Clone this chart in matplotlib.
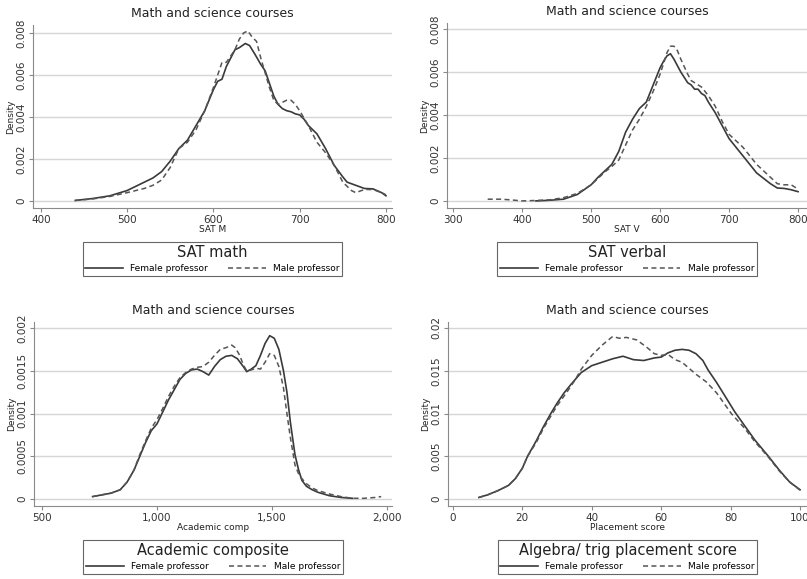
import numpy as np
import matplotlib
matplotlib.use("Agg")
import matplotlib.pyplot as plt

# Kernel density curves (density values in thousandths)
# SAT math
satm_f_x = [440, 460, 480, 500, 520, 530, 540, 550, 560, 570, 580, 590, 600, 605, 610, 615,
            620, 625, 630, 637, 642, 648, 655, 660, 665, 670, 675, 680, 685, 690, 695, 700,
            705, 710, 720, 730, 740, 750, 755, 765, 775, 785, 795, 800]
satm_f_y = [0.03, 0.12, 0.25, 0.5, 0.9, 1.1, 1.4, 1.9, 2.5, 2.9, 3.6, 4.3, 5.3, 5.7, 5.8, 6.4,
            6.8, 7.2, 7.3, 7.5, 7.4, 7.0, 6.5, 6.2, 5.6, 5.0, 4.6, 4.4, 4.3, 4.25, 4.15, 4.1,
            3.9, 3.6, 3.2, 2.5, 1.7, 1.15, 0.9, 0.75, 0.6, 0.58, 0.4, 0.25]
satm_m_x = [440, 460, 480, 500, 520, 530, 540, 550, 560, 570, 580, 590, 600, 605, 610, 615,
            620, 625, 630, 635, 640, 645, 650, 655, 660, 665, 670, 675, 680, 685, 690, 695,
            700, 710, 720, 730, 740, 750, 760, 765, 775, 785, 795, 800]
satm_m_y = [0.03, 0.1, 0.22, 0.4, 0.6, 0.75, 1.0, 1.6, 2.5, 2.8, 3.4, 4.3, 5.4, 6.0, 6.6, 6.6,
            6.9, 7.2, 7.7, 8.0, 8.1, 7.8, 7.6, 6.8, 6.1, 5.4, 4.8, 4.6, 4.7, 4.8, 4.8, 4.6,
            4.3, 3.6, 2.8, 2.3, 1.7, 0.9, 0.5, 0.4, 0.55, 0.55, 0.4, 0.3]

# SAT verbal
satv_f_x = [420, 440, 460, 480, 500, 510, 520, 530, 540, 550, 560, 570, 580, 590, 600, 605,
            610, 615, 620, 625, 630, 640, 645, 650, 655, 660, 665, 670, 680, 690, 700, 710,
            720, 730, 740, 750, 760, 770, 780, 790, 800]
satv_f_y = [0.0, 0.03, 0.08, 0.3, 0.75, 1.1, 1.4, 1.7, 2.3, 3.2, 3.8, 4.3, 4.6, 5.4, 6.2, 6.5,
            6.75, 6.85, 6.6, 6.3, 6.0, 5.5, 5.4, 5.2, 5.2, 5.0, 4.9, 4.6, 4.1, 3.5, 2.9, 2.5,
            2.1, 1.7, 1.3, 1.05, 0.8, 0.6, 0.58, 0.52, 0.43]
satv_m_x = [350, 370, 390, 400, 420, 440, 460, 480, 500, 510, 520, 530, 540, 550, 560, 570,
            580, 590, 600, 605, 610, 615, 620, 625, 630, 640, 645, 650, 660, 670, 680, 690,
            700, 710, 720, 730, 740, 750, 760, 770, 780, 790, 800]
satv_m_y = [0.08, 0.08, 0.03, 0.0, 0.02, 0.05, 0.15, 0.35, 0.75, 1.05, 1.35, 1.6, 1.9, 2.6, 3.3, 3.8,
            4.4, 5.1, 5.9, 6.4, 6.9, 7.2, 7.2, 7.0, 6.6, 5.9, 5.6, 5.5, 5.3, 4.9, 4.4, 3.7,
            3.1, 2.8, 2.5, 2.1, 1.7, 1.4, 1.1, 0.8, 0.75, 0.75, 0.55]

# Academic composite
acad_f_x = [720, 760, 800, 840, 870, 900, 925, 950, 975, 1000, 1025, 1050, 1075, 1100, 1125, 1150,
            1175, 1200, 1225, 1250, 1275, 1300, 1325, 1350, 1375, 1390, 1410, 1430, 1450, 1470, 1490,
            1510, 1530, 1550, 1565, 1580, 1600, 1615, 1630, 1650, 1675, 1700, 1750, 1800, 1850]
acad_f_y = [0.03, 0.05, 0.07, 0.11, 0.2, 0.34, 0.5, 0.66, 0.8, 0.88, 1.02, 1.16, 1.28, 1.4, 1.47, 1.51,
            1.52, 1.49, 1.45, 1.55, 1.63, 1.67, 1.68, 1.64, 1.55, 1.49, 1.52, 1.56, 1.68, 1.82, 1.91,
            1.88, 1.75, 1.5, 1.25, 0.9, 0.52, 0.35, 0.22, 0.15, 0.11, 0.08, 0.04, 0.02, 0.01]
acad_m_x = [720, 760, 800, 840, 870, 900, 925, 950, 975, 1000, 1025, 1050, 1075, 1100, 1125, 1150,
            1175, 1200, 1225, 1250, 1275, 1300, 1325, 1340, 1360, 1375, 1390, 1410, 1430, 1450, 1470,
            1490, 1510, 1530, 1550, 1565, 1580, 1600, 1615, 1630, 1650, 1675, 1700, 1750, 1800, 1850,
            1900, 1950, 1975]
acad_m_y = [0.03, 0.05, 0.07, 0.11, 0.2, 0.34, 0.52, 0.68, 0.83, 0.93, 1.06, 1.2, 1.32, 1.42, 1.48, 1.52,
            1.54, 1.55, 1.6, 1.68, 1.75, 1.77, 1.8, 1.77, 1.68, 1.57, 1.5, 1.51, 1.53, 1.52, 1.6,
            1.7, 1.68, 1.55, 1.3, 1.0, 0.72, 0.4, 0.3, 0.24, 0.18, 0.13, 0.1, 0.06, 0.03, 0.01,
            0.01, 0.02, 0.03]

# Algebra / trig placement score
place_f_x = [7.5, 10, 13, 16, 18, 20, 21.5, 24, 26, 28.2, 30, 32, 34, 37, 40, 43, 46, 49, 52, 55,
             58, 60, 62, 64, 66, 68, 70, 72, 73.5, 76, 78, 81.2, 84, 87, 90.9, 94, 97, 100]
place_f_y = [0.2, 0.5, 1.0, 1.6, 2.4, 3.6, 5.0, 6.8, 8.4, 10.0, 11.2, 12.4, 13.4, 14.8, 15.6, 16.0,
             16.4, 16.7, 16.3, 16.2, 16.5, 16.6, 17.1, 17.4, 17.5, 17.4, 17.0, 16.2, 15.1, 13.6,
             12.3, 10.2, 8.6, 6.9, 5.0, 3.4, 2.0, 1.1]
place_m_x = [7.5, 10, 13, 16, 18, 20, 21.5, 24, 26, 28.2, 30, 33, 35, 37, 40, 43, 46, 48, 50, 53,
             56, 58, 60, 62, 64, 66, 68, 70, 73, 76, 80.2, 84, 87, 90.9, 94, 97, 100]
place_m_y = [0.2, 0.5, 1.0, 1.6, 2.4, 3.6, 5.0, 6.6, 8.2, 9.7, 10.9, 12.6, 13.8, 15.2, 16.8, 18.0,
             19.0, 18.8, 18.9, 18.6, 17.7, 17.0, 16.8, 16.9, 16.3, 16.0, 15.3, 14.6, 13.7, 12.4,
             10.0, 8.3, 6.7, 4.9, 3.3, 2.0, 1.05]

panels = [
    dict(f=(satm_f_x, satm_f_y), m=(satm_m_x, satm_m_y), xlabel="SAT M", title="SAT math",
         xticks=[400, 500, 600, 700, 800], xticklabels=["400", "500", "600", "700", "800"],
         yticks=[0, 0.002, 0.004, 0.006, 0.008], yticklabels=["0", "0.002", "0.004", "0.006", "0.008"],
         xlim=(391, 807), ylim=(-0.00033, 0.00838),
         pos=[33, 25, 392, 208]),
    dict(f=(satv_f_x, satv_f_y), m=(satv_m_x, satv_m_y), xlabel="SAT V", title="SAT verbal",
         xticks=[300, 400, 500, 600, 700, 800], xticklabels=["300", "400", "500", "600", "700", "800"],
         yticks=[0, 0.002, 0.004, 0.006, 0.008], yticklabels=["0", "0.002", "0.004", "0.006", "0.008"],
         xlim=(291, 813), ylim=(-0.00033, 0.00828),
         pos=[447, 23, 807, 208]),
    dict(f=(acad_f_x, acad_f_y), m=(acad_m_x, acad_m_y), xlabel="Academic comp", title="Academic composite",
         xticks=[500, 1000, 1500, 2000], xticklabels=["500", "1,000", "1,500", "2,000"],
         yticks=[0, 0.0005, 0.001, 0.0015, 0.002], yticklabels=["0", "0.0005", "0.001", "0.0015", "0.002"],
         xlim=(465, 2022), ylim=(-0.00008, 0.00207),
         pos=[34, 322, 392, 506]),
    dict(f=(place_f_x, place_f_y), m=(place_m_x, place_m_y), xlabel="Placement score",
         title="Algebra/ trig placement score",
         xticks=[0, 20, 40, 60, 80, 100], xticklabels=["0", "20", "40", "60", "80", "100"],
         yticks=[0, 0.005, 0.01, 0.015, 0.02], yticklabels=["0", "0.005", "0.01", "0.015", "0.02"],
         xlim=(-1.4, 102), ylim=(-0.0008, 0.0207),
         pos=[448, 322, 807, 506]),
]

W, H = 807, 579
fig = plt.figure(figsize=(W / 100, H / 100), dpi=100)
fig.patch.set_facecolor("white")

line_col = "#3a3a3a"
grid_col = "#d6d6d6"
axis_col = "#8a8a8a"

for p in panels:
    x0, y0, x1, y1 = p["pos"]
    ax = fig.add_axes([x0 / W, 1 - y1 / H, (x1 - x0) / W, (y1 - y0) / H])
    fx, fy = p["f"]
    mx, my = p["m"]
    ax.plot(fx, np.array(fy) / 1000, color=line_col, lw=1.2, label="Female professor")
    ax.plot(mx, np.array(my) / 1000, color="#555555", lw=1.1, dashes=(3.3, 2.2),
            label="Male professor")

    ax.set_xlim(*p["xlim"])
    ax.set_ylim(*p["ylim"])
    ax.set_xticks(p["xticks"])
    ax.set_xticklabels(p["xticklabels"])
    ax.set_yticks(p["yticks"])
    ax.set_yticklabels(p["yticklabels"], rotation=90, va="center")
    ax.yaxis.grid(True, color=grid_col, lw=1.0)
    ax.set_axisbelow(True)
    for s in ["top", "right"]:
        ax.spines[s].set_visible(False)
    for s in ["left", "bottom"]:
        ax.spines[s].set_color(axis_col)
        ax.spines[s].set_linewidth(0.8)
    ax.tick_params(length=3, color=axis_col, width=0.8, pad=2, labelsize=7.5, labelcolor="#333333")

    ax.set_title("Math and science courses", fontsize=9, color="#222222", pad=6)
    ax.set_ylabel("Density", fontsize=6.5, color="#222222", labelpad=1)
    ax.set_xlabel(p["xlabel"], fontsize=6.5, color="#222222", labelpad=0)

    # legend box sits 34 px below the x axis
    leg_top = -34 / (y1 - y0)
    leg = ax.legend(loc="upper center", bbox_to_anchor=(0.5, leg_top), ncol=2,
                    title=p["title"], title_fontsize=10.5, fontsize=6.5,
                    frameon=True, fancybox=False, edgecolor="#666666", framealpha=1,
                    handlelength=4.2, handletextpad=0.8, columnspacing=2.2,
                    borderpad=0.3, borderaxespad=0)
    leg.get_frame().set_linewidth(0.8)
    leg.get_title().set_color("#222222")

fig.savefig("out.png", dpi=100)
